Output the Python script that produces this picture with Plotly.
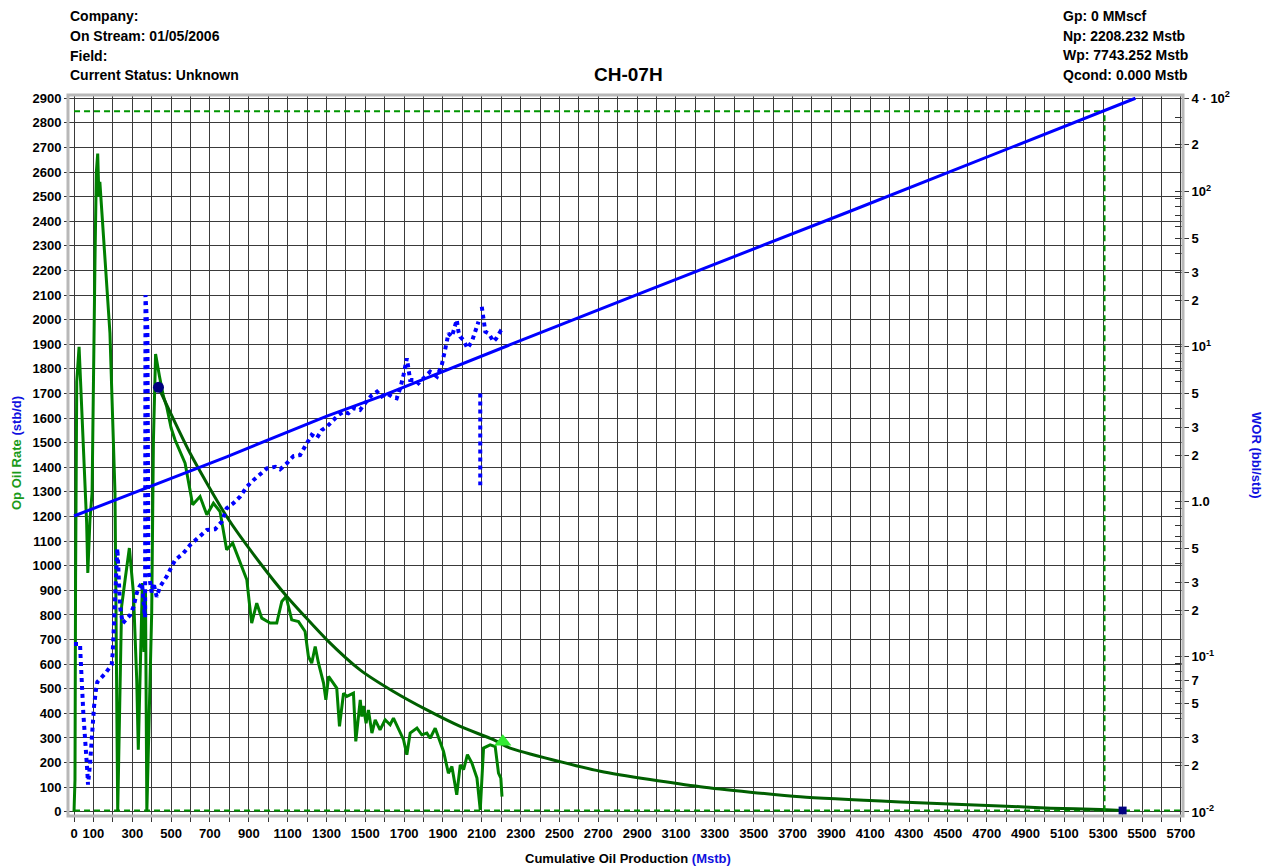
import plotly.graph_objects as go

# ---------------- data ----------------
cum_oil = [0, 5, 8, 14, 26, 45, 57, 65, 71, 82, 93, 100, 108, 115, 122, 128, 133,
           185, 203, 211, 225, 237, 245, 263, 285, 306, 323, 331, 345, 352, 360, 368, 375,
           388, 400, 409, 420, 440, 460, 477, 500, 520, 572, 611, 649, 684, 718, 752, 786,
           817, 855, 890, 903, 915, 941, 967, 1010, 1044, 1070, 1092, 1121, 1156, 1190,
           1207, 1224, 1242, 1259, 1285, 1297, 1311, 1353, 1367, 1388, 1405, 1439, 1451,
           1474, 1482, 1490, 1504, 1516, 1534, 1551, 1576, 1602, 1628, 1645, 1671, 1697,
           1714, 1731, 1766, 1791, 1817, 1834, 1860, 1886, 1903, 1928, 1946, 1971, 1989,
           2006, 2026, 2049, 2075, 2092, 2109, 2143, 2169, 2186, 2198, 2204]
oil_rate = [0, 130, 940, 1748, 1890, 1540, 1296, 1174, 971, 1186, 1296, 1865, 2243, 2600, 2675, 2500, 2560,
            1946, 1500, 1296, 0, 590, 834, 943, 1072, 889, 536, 252, 700, 930, 650, 900, 0,
            402, 808, 1512, 1860, 1770, 1690, 1647, 1560, 1512, 1417, 1248, 1281, 1207, 1254, 1220, 1065,
            1092, 1011, 943, 848, 767, 848, 787, 767, 767, 855, 875, 780, 773, 733,
            631, 604, 672, 604, 523, 455, 550, 503, 347, 482, 469, 482, 286,
            455, 387, 430, 360, 414, 320, 374, 333, 374, 354, 381, 340, 293,
            232, 320, 340, 313, 320, 299, 340, 279, 245, 157, 184, 69, 191,
            171, 232, 198, 137, 8, 259, 272, 265, 157, 137, 62]

decline_cum = [435, 598, 786, 958, 1096, 1302, 1473, 1645, 1817, 1989, 2160, 2246,
               2710, 3225, 3740, 4255, 4770, 5030, 5286, 5400]
decline_rate = [1725, 1457, 1200, 1011, 875, 699, 577, 489, 414, 347, 293, 259,
                165, 102, 61, 40, 24, 15, 9, 5]

wor_trend_cum = [0, 786, 1302, 1576, 2246, 2916, 4000, 5307, 5466]
wor_trend = [0.81, 1.95, 3.57, 4.76, 10.3, 22.1, 75, 331, 400]

wor_cum = [0, 31, 33, 36, 43, 48, 53, 62, 69, 72, 82, 88, 94, 103, 112, 120, 160, 194, 199,
           203, 206, 211, 217, 223, 228, 237, 251, 270, 289, 306, 323, 337, 350, 362, 366,
           368, 378, 383, 390, 400, 409, 426, 443, 477, 520, 563, 598, 649, 684, 726, 761,
           786, 821, 855, 890, 924, 958, 993, 1036, 1061, 1096, 1130, 1164, 1190, 1224,
           1250, 1276, 1302, 1328, 1362, 1388, 1413, 1439, 1473, 1499, 1534, 1560, 1585,
           1611, 1637, 1662, 1680, 1697, 1714, 1731, 1757, 1774, 1800, 1834, 1869, 1894,
           1920, 1928, 1946, 1971, 1980, 1989, 2006, 2026, 2049, 2075, 2083, None, 2092,
           2092, None, 2100, 2118, 2135, 2160, 2174, 2195, 2203]
wor = [0.121, 0.121, 0.105, 0.078, 0.058, 0.043, 0.032, 0.024, 0.0178, 0.0150, 0.020, 0.0277,
       0.0364, 0.0477, 0.060, 0.069, 0.078, 0.089, 0.105,
       0.135, 0.18, 0.257, 0.36, 0.50, 0.38, 0.21, 0.165, 0.175, 0.186, 0.21, 0.257, 0.284,
       0.30, 0.20, 0.18,
       21.5, 12.8, 0.36, 0.30, 0.26, 0.30, 0.244, 0.284, 0.33, 0.42, 0.466, 0.527, 0.596,
       0.658, 0.665, 0.745,
       0.908, 0.98, 1.08, 1.25, 1.38, 1.49, 1.64, 1.68, 1.62, 1.77, 1.97, 2.0, 2.27, 2.70,
       2.57, 2.90, 3.05, 3.28, 3.63, 3.81, 3.72, 4.01, 3.91, 4.32, 4.89, 5.13, 4.77,
       4.99, 4.77, 4.65, 5.40, 6.58, 8.42, 6.1, 6.1, 5.81, 6.25, 6.9, 6.41, 7.63,
       10.8, 12.2, 11.6, 14.9, 12.5, 11.6, 11.0, 9.77, 10.8, 13.2, 14.5, None, 5.0,
       1.28, None, 18.1, 12.5, 12.2, 10.8, 11.3, 12.5, 12.2]

wor_limit = 330
rate_limit = 5
limit_cum = 5307
cum_max = 5700

circle_pt = (435, 1725)
triangle_pt = (2208, 285)
square_pt = (5400, 5)

x_ticks = [0] + list(range(100, 5701, 200))
y_ticks = list(range(0, 2901, 100))
wor_ticks = [0.01, 0.02, 0.03, 0.05, 0.07, 0.1, 0.2, 0.3, 0.5, 1, 2, 3, 5, 10, 20, 30, 50, 100, 200, 400]
wor_ticktext = ["10<sup>-2</sup>", "2", "3", "5", "7", "10<sup>-1</sup>", "2", "3", "5", "1.0",
                "2", "3", "5", "10<sup>1</sup>", "2", "3", "5", "10<sup>2</sup>", "2", "4 · 10<sup>2</sup>"]
wor_minor = [m * 10 ** e for e in (-2, -1, 0, 1, 2) for m in range(1, 10) if m * 10 ** e <= 400]

header_left = ["Company:", "On Stream: 01/05/2006", "Field:", "Current Status: Unknown"]
header_right = ["Gp: 0 MMscf", "Np: 2208.232 Mstb", "Wp: 7743.252 Mstb", "Qcond: 0.000 Mstb"]

# ---------------- figure ----------------
FONT = "Liberation Sans, Arial, sans-serif"
GREEN = "rgb(0,128,0)"
DKGREEN = "rgb(0,95,0)"
DASHGREEN = "rgb(0,150,0)"
BLUE = "rgb(0,0,255)"
NAVY = "rgb(0,0,128)"

fig = go.Figure()

# limit lines
fig.add_trace(go.Scatter(x=[0, limit_cum], y=[wor_limit, wor_limit], yaxis="y2", mode="lines",
                         line=dict(color=DASHGREEN, width=2, dash="6px,4px"), hoverinfo="skip"))
fig.add_trace(go.Scatter(x=[limit_cum, limit_cum], y=[0.0101, wor_limit], yaxis="y2", mode="lines",
                         line=dict(color=DASHGREEN, width=2, dash="6px,4px"), hoverinfo="skip"))
fig.add_trace(go.Scatter(x=[0, cum_max], y=[rate_limit, rate_limit], mode="lines",
                         line=dict(color=DASHGREEN, width=2, dash="6px,4px"), hoverinfo="skip"))

# oil rate
fig.add_trace(go.Scatter(x=cum_oil, y=oil_rate, mode="lines", line=dict(color=GREEN, width=3)))
fig.add_trace(go.Scatter(x=decline_cum, y=decline_rate, mode="lines",
                         line=dict(color=DKGREEN, width=3, shape="spline", smoothing=0.6)))

# WOR
fig.add_trace(go.Scatter(x=wor_cum, y=wor, yaxis="y2", mode="lines", connectgaps=False,
                         line=dict(color=BLUE, width=4, dash="dot")))
fig.add_trace(go.Scatter(x=wor_trend_cum, y=wor_trend, yaxis="y2", mode="lines",
                         line=dict(color=BLUE, width=3)))

# markers
fig.add_trace(go.Scatter(x=[circle_pt[0]], y=[circle_pt[1]], mode="markers",
                         marker=dict(symbol="circle", size=11, color=NAVY)))
fig.add_trace(go.Scatter(x=[triangle_pt[0]], y=[triangle_pt[1]], mode="markers",
                         marker=dict(symbol="triangle-up", size=15, color="rgb(50,235,50)")))
fig.add_trace(go.Scatter(x=[square_pt[0]], y=[square_pt[1]], mode="markers",
                         marker=dict(symbol="square", size=8, color=NAVY)))

GRID = "#3a3a3a"
fig.update_layout(
    width=1271, height=868,
    margin=dict(l=68, r=88, t=95, b=52),
    paper_bgcolor="white", plot_bgcolor="white",
    showlegend=False,
    font=dict(family=FONT, size=13, color="black"),
    xaxis=dict(range=[-31, 5711], tickmode="array", tickvals=x_ticks,
               showgrid=True, gridcolor=GRID, gridwidth=1,
               ticks="outside", ticklen=5, tickcolor="#333",
               tickfont=dict(family=FONT, size=13, color="black", weight="bold"),
               minor=dict(tick0=0, dtick=100, showgrid=True, gridcolor=GRID, gridwidth=1,
                          ticks="outside", ticklen=5, tickcolor="#333"),
               zeroline=False, showline=False, fixedrange=True),
    yaxis=dict(range=[-17, 2913], tickmode="array", tickvals=y_ticks,
               showgrid=True, gridcolor=GRID, gridwidth=1,
               ticks="outside", ticklen=3, tickcolor="#333",
               tickfont=dict(family=FONT, size=13, color="black", weight="bold"),
               zeroline=False, showline=False),
    yaxis2=dict(type="log", range=[-2.026, 2.623], overlaying="y", side="right",
                tickmode="array", tickvals=wor_ticks, ticktext=wor_ticktext,
                showgrid=False, zeroline=False, showline=False,
                ticks="outside", ticklen=5, tickcolor="#333",
                tickfont=dict(family=FONT, size=13, color="black", weight="bold"),
                minor=dict(tickmode="array", tickvals=wor_minor, ticks="inside",
                           ticklen=8, tickcolor="#333", showgrid=False)),
)

# plot frame
fig.add_shape(type="rect", xref="paper", yref="paper", x0=0, x1=1, y0=0, y1=1,
              line=dict(color="#b8b8b8", width=3), layer="above")

PW, PH = 1115.0, 721.0
def px(x):
    return (x - 68) / PW
def py(y):
    return (816 - y) / PH

for i, t in enumerate(header_left):
    fig.add_annotation(text="<b>%s</b>" % t, xref="paper", yref="paper", x=px(68), y=py(16 + 19.8 * i),
                       xanchor="left", yanchor="middle", showarrow=False,
                       font=dict(family=FONT, size=14, color="black"))
for i, t in enumerate(header_right):
    fig.add_annotation(text="<b>%s</b>" % t, xref="paper", yref="paper", x=px(1061), y=py(16 + 19.6 * i),
                       xanchor="left", yanchor="middle", showarrow=False,
                       font=dict(family=FONT, size=14, color="black"))

fig.add_annotation(text="<b>CH-07H</b>", xref="paper", yref="paper", x=px(628), y=py(74),
                   xanchor="center", yanchor="middle", showarrow=False,
                   font=dict(family=FONT, size=19, color="black"))

fig.add_annotation(text="<b>Cumulative Oil Production <span style='color:#1010e0'>(Mstb)</span></b>",
                   xref="paper", yref="paper", x=px(628), y=py(858),
                   xanchor="center", yanchor="middle", showarrow=False,
                   font=dict(family=FONT, size=13, color="black"))

fig.add_annotation(text="<b><span style='color:#1a9a1a'>Op Oil Rate</span> <span style='color:#1010e0'>(stb/d)</span></b>",
                   xref="paper", yref="paper", x=px(16), y=py(453), textangle=-90,
                   xanchor="center", yanchor="middle", showarrow=False,
                   font=dict(family=FONT, size=13))

fig.add_annotation(text="<b>WOR (bbl/stb)</b>",
                   xref="paper", yref="paper", x=px(1257), y=py(455), textangle=90,
                   xanchor="center", yanchor="middle", showarrow=False,
                   font=dict(family=FONT, size=13, color="#1010e0"))

fig.write_html("out.html", config={"displayModeBar": False},
               post_script="document.body.style.margin='0px';document.body.style.overflow='hidden';")
